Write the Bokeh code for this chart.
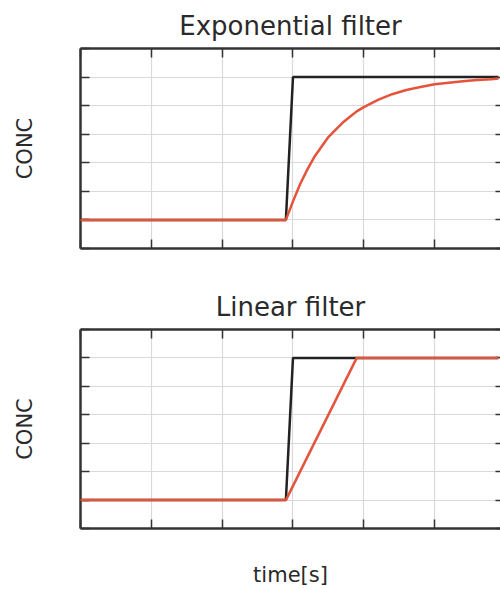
from bokeh.plotting import figure
from bokeh.layouts import column
from bokeh.models import LinearAxis, FixedTicker, CustomJSTickFormatter
from bokeh.embed import file_html
from bokeh.resources import INLINE

# --- data ---
t_input = [0.0, 2.9, 3.0, 5.9]
c_input = [0.0, 0.0, 1.0, 1.0]

t_exp = [0.0, 2.9, 3.0, 3.1, 3.2, 3.3, 3.4, 3.5, 3.6, 3.7, 3.8, 3.9, 4.0,
         4.2, 4.4, 4.6, 4.8, 5.0, 5.2, 5.4, 5.6, 5.8, 5.9]
c_exp = [0.0, 0.0, 0.13, 0.25, 0.35, 0.44, 0.51, 0.58, 0.63, 0.68, 0.72, 0.76, 0.79,
         0.84, 0.88, 0.91, 0.93, 0.95, 0.96, 0.97, 0.98, 0.985, 0.99]

t_lin = [0.0, 2.9, 3.9, 5.9]
c_lin = [0.0, 0.0, 1.0, 1.0]

x_ticks = [0, 1, 2, 3, 4, 5]
y_ticks = [-0.2, 0.0, 0.2, 0.4, 0.6, 0.8, 1.0, 1.2]

FONT = "DejaVu Sans"
TXT = "#2a2a2a"
FRAME = "#333333"
RED = "#e5533b"
BLACK = "#222222"


def style_axis(ax, ticks, line=True):
    ax.ticker = FixedTicker(ticks=ticks)
    ax.formatter = CustomJSTickFormatter(code="return '';")
    ax.major_tick_in = 9
    ax.major_tick_out = 0
    ax.minor_tick_line_color = None
    ax.major_tick_line_color = FRAME
    ax.major_tick_line_width = 1.5
    ax.major_label_text_font_size = "1px"
    ax.major_label_standoff = 0
    if line:
        ax.axis_line_color = FRAME
        ax.axis_line_width = 2.5
    else:
        ax.axis_line_color = None


def make_plot(title, height, top, bottom, xlabel=None):
    p = figure(width=500, height=height, x_range=(0, 5.93), y_range=(-0.2, 1.2),
               min_border_left=80, min_border_right=0, min_border_top=top,
               min_border_bottom=bottom, toolbar_location=None,
               output_backend="svg", title=title)
    p.outline_line_color = None
    p.background_fill_color = "white"
    p.border_fill_color = "white"
    p.title.text_font = FONT
    p.title.text_font_size = "26px"
    p.title.text_font_style = "normal"
    p.title.text_color = TXT
    p.title.align = "center"
    p.title.standoff = 15

    bottom_ax = p.below[0]
    left_ax = p.left[0]
    style_axis(bottom_ax, x_ticks)
    style_axis(left_ax, y_ticks)
    top_ax = LinearAxis()
    style_axis(top_ax, x_ticks)
    p.add_layout(top_ax, "above")
    right_ax = LinearAxis()
    style_axis(right_ax, y_ticks, line=False)
    right_ax.major_tick_in = 5
    p.add_layout(right_ax, "right")

    left_ax.axis_label = "CONC"
    left_ax.axis_label_text_font = FONT
    left_ax.axis_label_text_font_size = "21px"
    left_ax.axis_label_text_font_style = "normal"
    left_ax.axis_label_text_color = TXT
    left_ax.axis_label_standoff = 44

    if xlabel:
        bottom_ax.axis_label = xlabel
        bottom_ax.axis_label_text_font = FONT
        bottom_ax.axis_label_text_font_size = "21px"
        bottom_ax.axis_label_text_font_style = "normal"
        bottom_ax.axis_label_text_color = TXT
        bottom_ax.axis_label_standoff = 34

    p.xgrid.ticker = FixedTicker(ticks=[1, 2, 3, 4, 5])
    p.ygrid.ticker = FixedTicker(ticks=[0.0, 0.2, 0.4, 0.6, 0.8, 1.0])
    p.xgrid.grid_line_color = "#d9d9d9"
    p.ygrid.grid_line_color = "#d9d9d9"
    p.xgrid.grid_line_width = 1.2
    p.ygrid.grid_line_width = 1.2
    return p


p1 = make_plot("Exponential filter", 270, 48, 22)
p1.line(t_input, c_input, line_color=BLACK, line_width=2.5, level="overlay")
p1.line(t_exp, c_exp, line_color=RED, line_width=2.5, level="overlay")

p2 = make_plot("Linear filter", 319, 59, 59, xlabel="time[s]")
p2.line(t_input, c_input, line_color=BLACK, line_width=2.5, level="overlay")
p2.line(t_lin, c_lin, line_color=RED, line_width=2.5, level="overlay")

layout = column(p1, p2, spacing=0)
open("out.html", "w").write(file_html(layout, INLINE))
